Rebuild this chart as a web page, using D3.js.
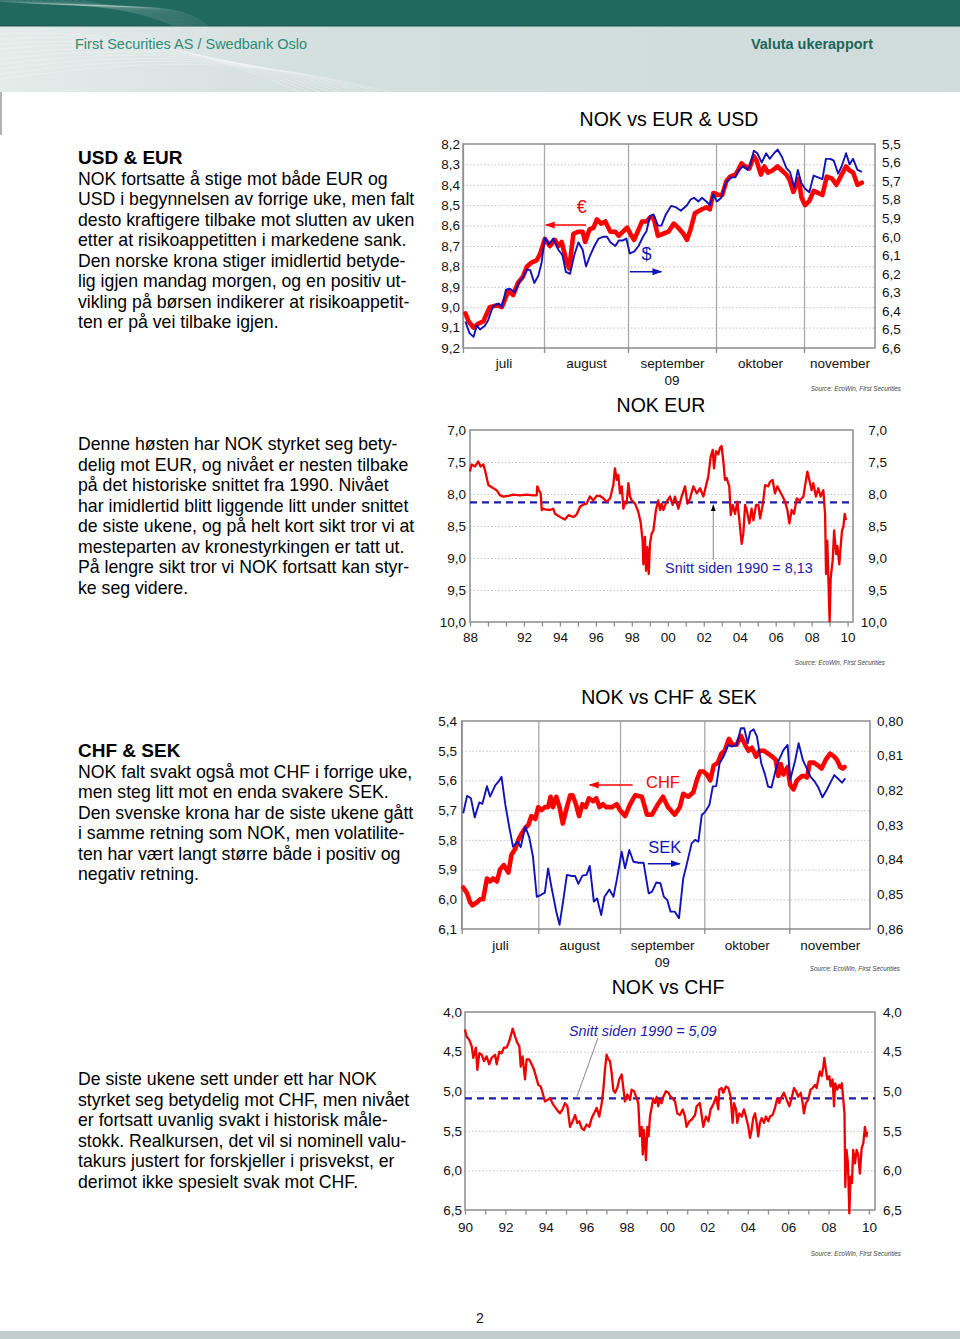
<!DOCTYPE html>
<html lang="no">
<head>
<meta charset="utf-8">
<title>Valuta ukerapport</title>
<script src="https://cdn.jsdelivr.net/npm/d3@7/dist/d3.min.js"></script>
<style>
html,body{margin:0;padding:0;background:#fff;}
svg{display:block;}
</style>
</head>
<body>
<svg id="page" width="960" height="1339" viewBox="0 0 960 1339"></svg>
<script>
// ================= DATA =================
const monthNames = ["juli", "august", "september", "oktober", "november"];
const monthStarts = [7, 8, 9, 10, 11];          // month number in 2009 (x = month + fraction of month)
const yearTag = "09";

// Chart 1 : NOK per EUR (left axis) and NOK per USD (right axis), Jul–Nov 2009
const nokEur2009 = [[7.03,9.03],[7.07,9.07],[7.13,9.10],[7.19,9.08],[7.25,9.07],[7.33,9.00],[7.42,8.99],[7.48,9.00],[7.56,8.92],[7.62,8.94],[7.68,8.88],[7.74,8.85],[7.79,8.80],[7.85,8.78],[7.91,8.77],[7.95,8.74],[8.01,8.665],[8.07,8.70],[8.13,8.67],[8.17,8.70],[8.21,8.68],[8.27,8.78],[8.30,8.81],[8.35,8.64],[8.41,8.63],[8.46,8.63],[8.49,8.68],[8.54,8.62],[8.59,8.61],[8.63,8.57],[8.68,8.59],[8.73,8.58],[8.79,8.63],[8.85,8.63],[8.89,8.65],[8.94,8.63],[8.99,8.61],[9.04,8.65],[9.07,8.67],[9.12,8.62],[9.16,8.58],[9.21,8.58],[9.25,8.56],[9.29,8.56],[9.34,8.65],[9.40,8.64],[9.46,8.63],[9.52,8.59],[9.57,8.61],[9.63,8.64],[9.67,8.67],[9.71,8.62],[9.76,8.54],[9.80,8.53],[9.84,8.52],[9.89,8.51],[9.93,8.52],[9.97,8.44],[10.03,8.45],[10.07,8.45],[10.12,8.38],[10.16,8.36],[10.22,8.35],[10.25,8.33],[10.29,8.295],[10.33,8.31],[10.38,8.32],[10.43,8.26],[10.46,8.28],[10.51,8.35],[10.55,8.31],[10.59,8.34],[10.64,8.33],[10.70,8.31],[10.75,8.33],[10.80,8.35],[10.84,8.38],[10.88,8.435],[10.94,8.37],[10.97,8.46],[11.01,8.50],[11.06,8.48],[11.11,8.43],[11.16,8.44],[11.21,8.45],[11.26,8.36],[11.32,8.37],[11.37,8.40],[11.43,8.35],[11.48,8.31],[11.52,8.33],[11.56,8.34],[11.61,8.40],[11.66,8.39]];
const nokUsd2009 = [[7.03,6.457],[7.08,6.52],[7.13,6.54],[7.17,6.48],[7.21,6.50],[7.27,6.48],[7.31,6.45],[7.37,6.376],[7.44,6.36],[7.48,6.38],[7.53,6.286],[7.58,6.28],[7.64,6.30],[7.70,6.24],[7.74,6.22],[7.79,6.177],[7.83,6.18],[7.88,6.25],[7.93,6.21],[7.97,6.14],[8.01,6.006],[8.06,6.04],[8.11,6.01],[8.17,6.07],[8.22,6.10],[8.26,6.19],[8.31,6.20],[8.36,6.10],[8.41,6.03],[8.46,6.07],[8.50,6.16],[8.55,6.10],[8.60,6.05],[8.65,6.01],[8.71,6.00],[8.75,6.00],[8.79,6.03],[8.85,6.05],[8.89,6.02],[8.94,6.02],[8.98,6.01],[9.02,6.09],[9.07,6.08],[9.12,6.05],[9.17,6.00],[9.21,5.97],[9.25,5.888],[9.29,5.88],[9.34,5.94],[9.38,5.94],[9.43,5.88],[9.49,5.834],[9.54,5.84],[9.60,5.86],[9.67,5.83],[9.71,5.80],[9.75,5.79],[9.80,5.81],[9.84,5.79],[9.89,5.81],[9.93,5.83],[9.97,5.77],[10.01,5.81],[10.06,5.79],[10.11,5.71],[10.17,5.68],[10.22,5.68],[10.26,5.64],[10.31,5.62],[10.36,5.64],[10.39,5.61],[10.43,5.536],[10.47,5.55],[10.52,5.60],[10.57,5.55],[10.61,5.58],[10.66,5.55],[10.70,5.53],[10.75,5.57],[10.80,5.63],[10.84,5.65],[10.89,5.735],[10.93,5.64],[10.97,5.71],[11.01,5.74],[11.06,5.76],[11.11,5.67],[11.16,5.68],[11.21,5.69],[11.25,5.58],[11.30,5.58],[11.34,5.59],[11.39,5.66],[11.43,5.62],[11.48,5.55],[11.52,5.61],[11.56,5.58],[11.61,5.64],[11.66,5.65]];
const c1LeftTicks  = [8.2,8.3,8.4,8.5,8.6,8.7,8.8,8.9,9.0,9.1,9.2];
const c1RightTicks = [5.5,5.6,5.7,5.8,5.9,6.0,6.1,6.2,6.3,6.4,6.5,6.6];

// Chart 2 : NOK per EUR since 1989 (x = year)
const nokEurHist = [[1989.0,7.65],[1989.09,7.54],[1989.28,7.57],[1989.46,7.49],[1989.59,7.57],[1989.74,7.54],[1989.83,7.62],[1990.02,7.86],[1990.30,7.91],[1990.48,7.94],[1990.67,8.02],[1990.85,8.04],[1991.13,8.03],[1991.41,8.01],[1991.78,8.02],[1992.15,8.01],[1992.52,8.02],[1992.71,8.02],[1992.74,7.88],[1992.86,7.96],[1992.93,7.99],[1992.99,8.25],[1993.08,8.23],[1993.17,8.24],[1993.45,8.25],[1993.63,8.23],[1993.73,8.31],[1994.01,8.36],[1994.28,8.40],[1994.47,8.33],[1994.75,8.36],[1994.93,8.32],[1995.12,8.20],[1995.27,8.17],[1995.49,8.15],[1995.67,8.04],[1995.86,8.10],[1996.04,8.03],[1996.23,8.03],[1996.42,8.07],[1996.60,8.12],[1996.79,8.07],[1996.97,7.86],[1997.06,7.60],[1997.16,7.78],[1997.25,7.70],[1997.34,7.99],[1997.44,7.88],[1997.53,8.23],[1997.62,8.12],[1997.71,8.15],[1997.81,7.83],[1997.90,8.04],[1997.99,8.10],[1998.18,8.15],[1998.36,8.28],[1998.49,8.44],[1998.60,8.73],[1998.64,9.10],[1998.73,8.67],[1998.79,9.20],[1998.86,8.83],[1998.94,9.25],[1999.01,8.78],[1999.10,8.62],[1999.20,8.57],[1999.34,8.25],[1999.47,8.10],[1999.57,8.25],[1999.66,8.15],[1999.75,8.25],[1999.94,8.12],[2000.12,8.04],[2000.27,8.17],[2000.40,8.04],[2000.59,8.23],[2000.77,8.04],[2000.96,7.88],[2001.09,8.15],[2001.24,8.07],[2001.42,7.88],[2001.61,7.99],[2001.79,7.91],[2001.98,8.04],[2002.16,7.83],[2002.25,7.73],[2002.39,7.41],[2002.50,7.31],[2002.57,7.60],[2002.68,7.33],[2002.81,7.38],[2002.90,7.28],[2002.99,7.25],[2003.09,7.49],[2003.18,7.78],[2003.27,7.75],[2003.42,7.88],[2003.50,8.33],[2003.61,8.17],[2003.74,8.31],[2003.87,8.12],[2003.98,8.41],[2004.11,8.78],[2004.20,8.62],[2004.30,8.17],[2004.39,8.25],[2004.54,8.46],[2004.66,8.23],[2004.76,8.41],[2004.91,8.17],[2005.04,8.17],[2005.13,8.38],[2005.28,8.17],[2005.41,7.86],[2005.59,7.88],[2005.68,7.81],[2005.83,7.78],[2005.96,7.99],[2006.09,7.88],[2006.24,7.96],[2006.39,8.04],[2006.52,8.12],[2006.65,8.25],[2006.76,8.46],[2006.89,8.25],[2007.02,8.31],[2007.17,8.07],[2007.35,8.10],[2007.54,8.04],[2007.63,7.88],[2007.76,7.65],[2007.87,7.78],[2008.00,7.94],[2008.09,7.83],[2008.24,8.04],[2008.37,7.91],[2008.50,8.04],[2008.65,7.94],[2008.75,8.33],[2008.80,9.25],[2008.87,8.73],[2008.95,9.52],[2009.00,9.99],[2009.06,9.31],[2009.17,9.04],[2009.25,8.57],[2009.36,8.94],[2009.43,8.81],[2009.54,9.10],[2009.61,8.83],[2009.69,8.57],[2009.76,8.52],[2009.84,8.31],[2009.91,8.41]];
const nokEurMean = 8.13;
const c2Ticks = [7.0,7.5,8.0,8.5,9.0,9.5,10.0];
const c2YearTicks = [1989,1990,1991,1992,1993,1994,1995,1996,1997,1998,1999,2000,2001,2002,2003,2004,2005,2006,2007,2008,2009,2010];
const c2YearLabels = {1989:"88",1992:"92",1994:"94",1996:"96",1998:"98",2000:"00",2002:"02",2004:"04",2006:"06",2008:"08",2010:"10"};

// Chart 3 : NOK per CHF (left axis) and NOK per SEK (right axis), Jul–Nov 2009
const nokChf2009 = [[7.02,5.96],[7.07,5.98],[7.11,6.01],[7.14,6.02],[7.20,6.01],[7.24,6.00],[7.28,6.00],[7.33,5.93],[7.37,5.94],[7.41,5.93],[7.46,5.94],[7.50,5.90],[7.55,5.885],[7.61,5.91],[7.65,5.85],[7.70,5.83],[7.74,5.80],[7.78,5.78],[7.83,5.76],[7.87,5.75],[7.91,5.72],[7.96,5.73],[8.00,5.69],[8.04,5.70],[8.08,5.69],[8.12,5.69],[8.15,5.655],[8.18,5.69],[8.22,5.655],[8.26,5.69],[8.30,5.745],[8.35,5.69],[8.39,5.65],[8.42,5.65],[8.46,5.68],[8.50,5.72],[8.54,5.68],[8.58,5.69],[8.62,5.66],[8.67,5.67],[8.71,5.66],[8.75,5.69],[8.79,5.68],[8.83,5.69],[8.90,5.69],[8.96,5.68],[9.00,5.70],[9.06,5.72],[9.12,5.68],[9.18,5.65],[9.26,5.655],[9.32,5.715],[9.38,5.715],[9.45,5.68],[9.51,5.655],[9.57,5.69],[9.65,5.715],[9.71,5.69],[9.75,5.645],[9.81,5.655],[9.87,5.64],[9.91,5.60],[9.95,5.57],[9.99,5.57],[10.03,5.58],[10.07,5.60],[10.11,5.55],[10.16,5.54],[10.20,5.51],[10.24,5.50],[10.29,5.46],[10.33,5.48],[10.38,5.48],[10.43,5.45],[10.48,5.48],[10.52,5.50],[10.56,5.49],[10.61,5.52],[10.65,5.50],[10.70,5.50],[10.75,5.51],[10.80,5.52],[10.84,5.53],[10.87,5.585],[10.90,5.545],[10.93,5.58],[10.98,5.555],[11.01,5.615],[11.05,5.63],[11.09,5.60],[11.15,5.585],[11.18,5.585],[11.21,5.59],[11.24,5.54],[11.29,5.54],[11.34,5.55],[11.38,5.56],[11.43,5.53],[11.48,5.51],[11.53,5.52],[11.56,5.53],[11.60,5.555],[11.63,5.56],[11.65,5.555]];
const nokSek2009 = [[7.02,0.8266],[7.07,0.8216],[7.12,0.8223],[7.17,0.8278],[7.23,0.8235],[7.27,0.8239],[7.33,0.8188],[7.37,0.8218],[7.44,0.8185],[7.48,0.8175],[7.52,0.8161],[7.57,0.8242],[7.62,0.8305],[7.67,0.8363],[7.73,0.8348],[7.77,0.8364],[7.83,0.8305],[7.88,0.8334],[7.93,0.8391],[7.98,0.8507],[8.03,0.8502],[8.08,0.8495],[8.12,0.8425],[8.16,0.8478],[8.22,0.8550],[8.26,0.8588],[8.30,0.8526],[8.35,0.8444],[8.41,0.8447],[8.45,0.8447],[8.49,0.8470],[8.54,0.8446],[8.59,0.8444],[8.63,0.8418],[8.68,0.8521],[8.72,0.8512],[8.77,0.8560],[8.81,0.8507],[8.87,0.8486],[8.92,0.8507],[8.96,0.8459],[9.02,0.8377],[9.06,0.8425],[9.11,0.8372],[9.16,0.8406],[9.22,0.8409],[9.28,0.8409],[9.34,0.8497],[9.38,0.8492],[9.43,0.8466],[9.48,0.8468],[9.52,0.8507],[9.56,0.8516],[9.60,0.8550],[9.65,0.8550],[9.70,0.8569],[9.75,0.8454],[9.79,0.8415],[9.85,0.8353],[9.89,0.8343],[9.93,0.8348],[9.97,0.8271],[10.01,0.8262],[10.06,0.8242],[10.10,0.8189],[10.14,0.8188],[10.18,0.8122],[10.23,0.8101],[10.28,0.8069],[10.32,0.8074],[10.38,0.8069],[10.43,0.8021],[10.47,0.8021],[10.51,0.8064],[10.54,0.8031],[10.58,0.8024],[10.62,0.8045],[10.67,0.8122],[10.71,0.8151],[10.75,0.8189],[10.79,0.8192],[10.84,0.8141],[10.87,0.8117],[10.93,0.8084],[10.98,0.8069],[11.01,0.8170],[11.07,0.8113],[11.11,0.8064],[11.16,0.8113],[11.20,0.8134],[11.25,0.8161],[11.30,0.8175],[11.34,0.8191],[11.39,0.8220],[11.44,0.8199],[11.49,0.8175],[11.53,0.8156],[11.58,0.8168],[11.62,0.8178],[11.66,0.8165]];
const c3LeftTicks  = [5.4,5.5,5.6,5.7,5.8,5.9,6.0,6.1];
const c3RightTicks = [0.80,0.81,0.82,0.83,0.84,0.85,0.86];

// Chart 4 : NOK per CHF since 1990 (x = year)
const nokChfHist = [[1990.0,4.22],[1990.08,4.31],[1990.21,4.35],[1990.33,4.43],[1990.41,4.58],[1990.54,4.45],[1990.61,4.73],[1990.71,4.52],[1990.83,4.54],[1990.94,4.62],[1991.07,4.56],[1991.20,4.66],[1991.32,4.58],[1991.49,4.54],[1991.57,4.66],[1991.70,4.50],[1991.82,4.52],[1991.93,4.45],[1992.06,4.45],[1992.19,4.37],[1992.31,4.26],[1992.36,4.21],[1992.48,4.31],[1992.59,4.39],[1992.69,4.43],[1992.76,4.69],[1992.85,4.56],[1992.97,4.85],[1993.05,4.60],[1993.18,4.60],[1993.30,4.66],[1993.42,4.73],[1993.51,4.81],[1993.63,4.92],[1993.75,4.94],[1993.84,5.02],[1993.96,5.13],[1994.08,5.11],[1994.21,5.09],[1994.37,5.17],[1994.54,5.23],[1994.70,5.28],[1994.83,5.23],[1994.95,5.15],[1995.07,5.19],[1995.20,5.45],[1995.33,5.38],[1995.45,5.30],[1995.56,5.40],[1995.66,5.38],[1995.78,5.47],[1995.89,5.49],[1996.02,5.42],[1996.16,5.45],[1996.27,5.34],[1996.39,5.28],[1996.52,5.21],[1996.65,5.32],[1996.77,5.15],[1996.85,4.98],[1996.93,4.73],[1997.01,4.54],[1997.10,4.60],[1997.18,4.62],[1997.26,4.77],[1997.34,4.98],[1997.43,5.02],[1997.54,4.96],[1997.64,4.85],[1997.76,4.79],[1997.84,4.96],[1997.92,5.13],[1998.04,5.04],[1998.17,5.11],[1998.25,4.98],[1998.37,5.00],[1998.47,5.07],[1998.58,5.15],[1998.66,5.57],[1998.75,5.45],[1998.80,5.80],[1998.86,5.49],[1998.91,5.66],[1998.96,5.87],[1999.03,5.45],[1999.09,5.57],[1999.16,5.32],[1999.24,5.21],[1999.32,5.09],[1999.41,5.15],[1999.49,5.07],[1999.57,5.19],[1999.65,5.11],[1999.74,5.15],[1999.82,5.07],[1999.95,5.00],[2000.07,5.02],[2000.18,5.07],[2000.28,5.09],[2000.40,5.13],[2000.51,5.28],[2000.64,5.30],[2000.78,5.23],[2000.89,5.32],[2000.97,5.45],[2001.11,5.38],[2001.22,5.36],[2001.39,5.30],[2001.47,5.19],[2001.63,5.15],[2001.80,5.45],[2001.93,5.32],[2002.05,5.38],[2002.16,5.23],[2002.29,5.17],[2002.43,5.07],[2002.54,5.23],[2002.59,4.98],[2002.71,4.96],[2002.79,5.02],[2002.92,4.94],[2003.04,4.96],[2003.15,5.07],[2003.25,5.40],[2003.32,5.15],[2003.42,5.23],[2003.48,5.40],[2003.58,5.28],[2003.70,5.32],[2003.81,5.23],[2003.91,5.32],[2004.03,5.45],[2004.11,5.59],[2004.19,5.49],[2004.27,5.34],[2004.36,5.28],[2004.44,5.40],[2004.52,5.57],[2004.60,5.40],[2004.69,5.34],[2004.80,5.40],[2004.90,5.32],[2005.02,5.38],[2005.10,5.32],[2005.23,5.30],[2005.35,5.21],[2005.46,5.09],[2005.56,5.15],[2005.68,5.07],[2005.79,5.02],[2005.93,5.11],[2006.06,5.19],[2006.17,5.09],[2006.29,4.96],[2006.39,5.00],[2006.50,5.07],[2006.62,5.02],[2006.72,5.15],[2006.78,5.28],[2006.88,5.15],[2006.99,5.11],[2007.11,4.98],[2007.21,4.96],[2007.33,4.92],[2007.41,4.96],[2007.49,4.85],[2007.57,4.75],[2007.66,4.81],[2007.74,4.69],[2007.79,4.58],[2007.87,4.73],[2007.94,4.85],[2008.04,4.81],[2008.10,4.94],[2008.20,4.85],[2008.27,5.19],[2008.33,4.90],[2008.43,4.98],[2008.53,4.92],[2008.60,4.96],[2008.66,4.90],[2008.73,5.11],[2008.79,5.28],[2008.83,6.21],[2008.89,5.74],[2008.96,5.91],[2009.03,6.54],[2009.09,6.08],[2009.16,6.16],[2009.22,5.74],[2009.31,5.91],[2009.39,5.74],[2009.47,5.80],[2009.55,6.04],[2009.64,5.72],[2009.72,5.66],[2009.80,5.45],[2009.88,5.57],[2009.91,5.51]];
const nokChfMean = 5.09;
const c4Ticks = [4.0,4.5,5.0,5.5,6.0,6.5];
const c4YearTicks = [1990,1991,1992,1993,1994,1995,1996,1997,1998,1999,2000,2001,2002,2003,2004,2005,2006,2007,2008,2009,2010];
const c4YearLabels = {1990:"90",1992:"92",1994:"94",1996:"96",1998:"98",2000:"00",2002:"02",2004:"04",2006:"06",2008:"08",2010:"10"};

// Body text
const textUsdEur = ["USD & EUR",
  "NOK fortsatte å stige mot både EUR og",
  "USD i begynnelsen av forrige uke, men falt",
  "desto kraftigere tilbake mot slutten av uken",
  "etter at risikoappetitten i markedene sank.",
  "Den norske krona stiger imidlertid betyde-",
  "lig igjen mandag morgen, og en positiv ut-",
  "vikling på børsen indikerer at risikoappetit-",
  "ten er på vei tilbake igjen."];
const textEurHist = ["Denne høsten har NOK styrket seg bety-",
  "delig mot EUR, og nivået er nesten tilbake",
  "på det historiske snittet fra 1990. Nivået",
  "har imidlertid blitt liggende litt under snittet",
  "de siste ukene, og på helt kort sikt tror vi at",
  "mesteparten av kronestyrkingen er tatt ut.",
  "På lengre sikt tror vi NOK fortsatt kan styr-",
  "ke seg videre."];
const textChfSek = ["CHF & SEK",
  "NOK falt svakt også mot CHF i forrige uke,",
  "men steg litt mot en enda svakere SEK.",
  "Den svenske krona har de siste ukene gått",
  "i samme retning som NOK, men volatilite-",
  "ten har vært langt større både i positiv og",
  "negativ retning."];
const textChfHist = ["De siste ukene sett under ett har NOK",
  "styrket seg betydelig mot CHF, men nivået",
  "er fortsatt uvanlig svakt i historisk måle-",
  "stokk. Realkursen, det vil si nominell valu-",
  "takurs justert for forskjeller i prisvekst, er",
  "derimot ikke spesielt svak mot CHF."];
const sourceText = "Source: EcoWin, First Securities";

// ================= DRAWING =================
const FONT = '"Liberation Sans", Arial, Helvetica, sans-serif';
const RED = "#ff0000", RED2 = "#ee0000", BLUE = "#1212b8", DASH = "#1c1ca8";
const GRID = "#c4c4c4", FRAME = "#8c8c8c", MLINE = "#a8a8a8";
const svg = d3.select("#page").attr("font-family", FONT);
const loc = d3.formatLocale({decimal: ",", thousands: " ", grouping: [3], currency: ["", ""]});
const f1 = loc.format(".1f"), f2 = loc.format(".2f");

const defs = svg.append("defs");
function marker(id, color, size) {
  defs.append("marker").attr("id", id).attr("viewBox", "0 0 10 10")
    .attr("refX", 9).attr("refY", 5).attr("markerUnits", "userSpaceOnUse")
    .attr("markerWidth", size).attr("markerHeight", size).attr("orient", "auto")
    .append("path").attr("d", "M0,1.5 L10,5 L0,8.5 Z").attr("fill", color);
}
marker("arrR", RED, 10); marker("arrB", BLUE, 10); marker("arrK", "#000", 7);

// ---- page header ----
const hdr = svg.append("g");
const hgrad = defs.append("linearGradient").attr("id", "hg").attr("x1", 0).attr("x2", 1).attr("y1", 0).attr("y2", 0);
hgrad.append("stop").attr("offset", 0).attr("stop-color", "#e4ecea");
hgrad.append("stop").attr("offset", 0.35).attr("stop-color", "#d3dfdd");
hgrad.append("stop").attr("offset", 1).attr("stop-color", "#d0dcdb");
hdr.append("rect").attr("x", 0).attr("y", 26).attr("width", 960).attr("height", 66).attr("fill", "url(#hg)");
hdr.append("rect").attr("x", 0).attr("y", 0).attr("width", 960).attr("height", 26).attr("fill", "#21685e");
hdr.append("line").attr("x1", 0).attr("x2", 960).attr("y1", 26).attr("y2", 26).attr("stroke", "#1b554d").attr("stroke-width", 1);
hdr.selectAll("path.sw").data(d3.range(14)).join("path")
  .attr("d", i => `M${-10 + i * 7},0 C${50 + i * 6},${8 + i * 0.4} ${110 + i * 5},${-2} ${175 + i * 2.5},26`)
  .attr("fill", "none").attr("stroke", "rgba(255,255,255,0.16)").attr("stroke-width", 0.8);
hdr.selectAll("path.sw2").data(d3.range(10)).join("path")
  .attr("d", i => `M0,${34 + i * 5} C${90 + i * 8},${30 + i * 3} ${180 + i * 8},${40 + i * 2} ${300 + i * 10},92`)
  .attr("fill", "none").attr("stroke", "rgba(255,255,255,0.35)").attr("stroke-width", 0.8);
hdr.append("text").attr("x", 75).attr("y", 49).attr("font-size", 15).attr("fill", "#2f8a76")
  .attr("textLength", 232).attr("lengthAdjust", "spacingAndGlyphs").text("First Securities AS / Swedbank Oslo");
hdr.append("text").attr("x", 751).attr("y", 49).attr("font-size", 15).attr("font-weight", "bold").attr("fill", "#1d6557")
  .attr("textLength", 122).attr("lengthAdjust", "spacingAndGlyphs").text("Valuta ukerapport");
hdr.append("line").attr("x1", 1).attr("x2", 1).attr("y1", 92).attr("y2", 135).attr("stroke", "#666").attr("stroke-width", 1);

// ---- footer ----
svg.append("text").attr("x", 480).attr("y", 1323).attr("text-anchor", "middle").attr("font-size", 14).attr("fill", "#111").text("2");
svg.append("rect").attr("x", 0).attr("y", 1331).attr("width", 960).attr("height", 8).attr("fill", "#c1cecb");

// ---- body text ----
function paragraph(lines, y, boldFirst) {
  svg.append("g").attr("font-size", 17.7).attr("fill", "#000")
    .selectAll("text").data(lines).join("text")
    .attr("x", 78).attr("y", (d, i) => y + i * 20.5)
    .attr("font-weight", (d, i) => (boldFirst && i === 0) ? "bold" : null)
    .attr("font-size", (d, i) => (boldFirst && i === 0) ? 19 : null)
    .text(d => d);
}
paragraph(textUsdEur, 164, true);
paragraph(textEurHist, 450, false);
paragraph(textChfSek, 757, true);
paragraph(textChfHist, 1085, false);

// ---- helpers ----
function gridLines(g, y, ticks, x0, x1) {
  g.append("g").attr("transform", `translate(${x0},0)`)
    .call(d3.axisLeft(y).tickValues(ticks).tickSize(-(x1 - x0)).tickFormat(""))
    .call(s => s.select(".domain").remove())
    .call(s => s.selectAll(".tick line").attr("stroke", GRID).attr("stroke-width", 1).attr("stroke-dasharray", "1.5,2"));
}
function yLabels(g, y, ticks, xpos, anchor, fmt) {
  const ax = anchor === "end" ? d3.axisLeft(y) : d3.axisRight(y);
  g.append("g").attr("transform", `translate(${xpos},0)`)
    .call(ax.tickValues(ticks).tickSize(0).tickPadding(0).tickFormat(fmt))
    .call(s => s.select(".domain").remove())
    .call(s => s.selectAll("text").attr("font-family", FONT).attr("font-size", 13.5).attr("fill", "#111"));
}
function frame(g, x0, x1, y0, y1) {
  g.append("rect").attr("x", x0).attr("y", y0).attr("width", x1 - x0).attr("height", y1 - y0)
    .attr("fill", "none").attr("stroke", FRAME).attr("stroke-width", 1.5);
}
function title(g, x, y, t) {
  g.append("text").attr("x", x).attr("y", y).attr("text-anchor", "middle").attr("font-size", 19.5).attr("fill", "#000").text(t);
}
function source(g, x, y) {
  g.append("text").attr("x", x).attr("y", y).attr("text-anchor", "end").attr("font-size", 6.3)
    .attr("font-style", "italic").attr("fill", "#444").text(sourceText);
}

// ---- month chart (charts 1 & 3) ----
function monthChart(o) {
  const g = svg.append("g");
  const x = d3.scaleLinear().domain(o.xDomain).range(o.xRange);
  const yL = d3.scaleLinear().domain([o.leftTicks[0], o.leftTicks[o.leftTicks.length - 1]]).range([o.y0, o.y1]);
  const yR = d3.scaleLinear().domain([o.rightTicks[0], o.rightTicks[o.rightTicks.length - 1]]).range([o.y0, o.y1]);
  const x0 = x.range()[0], x1 = x.range()[x.range().length - 1];
  const xEnd = o.xDomain[o.xDomain.length - 1];
  gridLines(g, yL, o.leftTicks.slice(1, -1), x0, x1);
  g.append("g").attr("transform", `translate(0,${o.y1})`)
    .call(d3.axisBottom(x).tickValues(monthStarts).tickSize(-(o.y1 - o.y0)).tickFormat(""))
    .call(s => s.select(".domain").remove())
    .call(s => s.selectAll(".tick line").attr("stroke", MLINE).attr("stroke-width", 1.3));
  g.append("g").attr("transform", `translate(0,${o.y1})`)
    .call(d3.axisBottom(x).tickValues(monthStarts).tickSize(5).tickFormat(""))
    .call(s => s.select(".domain").remove())
    .call(s => s.selectAll(".tick line").attr("stroke", FRAME).attr("stroke-width", 1.3));
  frame(g, x0, x1, o.y0, o.y1);
  const mids = monthStarts.map((m, i) => i < monthStarts.length - 1 ? m + 0.5 : (m + xEnd) / 2);
  g.append("g").attr("transform", `translate(0,${o.y1})`)
    .call(d3.axisBottom(x).tickValues(mids).tickSize(0).tickPadding(o.labelPad).tickFormat((d, i) => monthNames[i]))
    .call(s => s.select(".domain").remove())
    .call(s => s.selectAll("text").attr("font-family", FONT).attr("font-size", 13.5).attr("fill", "#111"));
  g.append("text").attr("x", x(mids[2])).attr("y", o.y1 + o.labelPad + 26.5).attr("text-anchor", "middle")
    .attr("font-size", 13.5).attr("fill", "#111").text(yearTag);
  yLabels(g, yL, o.leftTicks, o.leftLabelX, "end", o.leftFmt);
  yLabels(g, yR, o.rightTicks, o.rightLabelX, "start", o.rightFmt);
  const lineL = d3.line().x(d => x(d[0])).y(d => yL(d[1]));
  const lineR = d3.line().x(d => x(d[0])).y(d => yR(d[1]));
  g.append("path").datum(o.leftSeries).attr("d", lineL).attr("fill", "none").attr("stroke", RED)
    .attr("stroke-width", 4.6).attr("stroke-linejoin", "round").attr("stroke-linecap", "round");
  g.append("path").datum(o.rightSeries).attr("d", lineR).attr("fill", "none").attr("stroke", BLUE)
    .attr("stroke-width", 1.9).attr("stroke-linejoin", "round");
  const aL = o.annLeft, aR = o.annRight;
  g.append("text").attr("x", x(aL.tx)).attr("y", yL(aL.ty)).attr("text-anchor", "middle")
    .attr("font-size", aL.size).attr("fill", RED).text(aL.text);
  g.append("line").attr("x1", x(aL.from)).attr("x2", x(aL.to)).attr("y1", yL(aL.ay)).attr("y2", yL(aL.ay))
    .attr("stroke", RED).attr("stroke-width", 1.5).attr("marker-end", "url(#arrR)");
  g.append("text").attr("x", x(aR.tx)).attr("y", yL(aR.ty)).attr("text-anchor", "middle")
    .attr("font-size", aR.size).attr("fill", BLUE).text(aR.text);
  g.append("line").attr("x1", x(aR.from)).attr("x2", x(aR.to)).attr("y1", yL(aR.ay)).attr("y2", yL(aR.ay))
    .attr("stroke", BLUE).attr("stroke-width", 1.5).attr("marker-end", "url(#arrB)");
  title(g, o.titleX, o.titleY, o.title);
  source(g, o.srcX, o.srcY);
}

monthChart({
  title: "NOK vs EUR & USD", titleX: 669, titleY: 126,
  xDomain: [7, 8, 9, 10, 11, 11.81], xRange: [463, 544, 628, 716, 804, 875],
  y0: 144, y1: 348, labelPad: 10.5,
  leftTicks: c1LeftTicks, rightTicks: c1RightTicks, leftFmt: f1, rightFmt: f1,
  leftLabelX: 460, rightLabelX: 882,
  leftSeries: nokEur2009, rightSeries: nokUsd2009,
  annLeft: {text: "€", tx: 8.45, ty: 8.54, size: 18, from: 8.50, to: 8.02, ay: 8.597},
  annRight: {text: "$", tx: 9.21, ty: 8.77, size: 18, from: 9.02, to: 9.38, ay: 8.826},
  srcX: 901, srcY: 391
});

monthChart({
  title: "NOK vs CHF & SEK", titleX: 669, titleY: 704,
  xDomain: [7, 8, 9, 10, 11, 11.95], xRange: [461.7, 538.3, 620, 704.3, 789.3, 870],
  y0: 721, y1: 929, labelPad: 11.4,
  leftTicks: c3LeftTicks, rightTicks: c3RightTicks, leftFmt: f1, rightFmt: f2,
  leftLabelX: 457, rightLabelX: 877,
  leftSeries: nokChf2009, rightSeries: nokSek2009,
  annLeft: {text: "CHF", tx: 9.51, ty: 5.626, size: 16.5, from: 9.15, to: 8.63, ay: 5.615},
  annRight: {text: "SEK", tx: 9.53, ty: 5.844, size: 16.5, from: 9.33, to: 9.71, ay: 5.88},
  srcX: 900, srcY: 971
});

// ---- history chart (charts 2 & 4) ----
function histChart(o) {
  const g = svg.append("g");
  const x = d3.scaleLinear().domain(o.xDomain).range([o.x0, o.x1]);
  const y = d3.scaleLinear().domain([o.ticks[0], o.ticks[o.ticks.length - 1]]).range([o.y0, o.y1]);
  gridLines(g, y, o.ticks.slice(1, -1), o.x0, o.x1);
  frame(g, o.x0, o.x1, o.y0, o.y1);
  g.append("g").attr("transform", `translate(0,${o.y1})`)
    .call(d3.axisBottom(x).tickValues(o.yearTicks).tickSize(4.5).tickPadding(o.labelPad)
      .tickFormat(d => o.yearLabels[d] || ""))
    .call(s => s.select(".domain").remove())
    .call(s => s.selectAll(".tick line").attr("stroke", FRAME).attr("stroke-width", 1.3))
    .call(s => s.selectAll("text").attr("font-family", FONT).attr("font-size", 13.5).attr("fill", "#111"));
  yLabels(g, y, o.ticks, o.leftLabelX, "end", f1);
  yLabels(g, y, o.ticks, o.rightLabelX, o.rightAnchor, f1);
  g.append("line").attr("x1", o.x0).attr("x2", o.x1).attr("y1", y(o.mean)).attr("y2", y(o.mean))
    .attr("stroke", DASH).attr("stroke-width", 2.2).attr("stroke-dasharray", "7,5");
  g.append("path").datum(o.series)
    .attr("d", d3.line().x(d => x(d[0])).y(d => y(d[1])))
    .attr("fill", "none").attr("stroke", RED2).attr("stroke-width", 2.3).attr("stroke-linejoin", "round");
  const n = o.note;
  g.append("line").attr("x1", x(n.l1[0])).attr("y1", y(n.l1[1])).attr("x2", x(n.l2[0])).attr("y2", y(n.l2[1]))
    .attr("stroke", "#888").attr("stroke-width", 1).attr("marker-end", n.arrow ? "url(#arrK)" : null);
  g.append("text").attr("x", x(n.tx)).attr("y", y(n.ty)).attr("font-size", 14.4)
    .attr("font-style", n.italic ? "italic" : null).attr("fill", DASH)
    .text("Snitt siden 1990 = " + f2(o.mean));
  title(g, o.titleX, o.titleY, o.title);
  source(g, o.srcX, o.srcY);
}

histChart({
  title: "NOK EUR", titleX: 661, titleY: 412,
  xDomain: [1989, 2010.3], x0: 470, x1: 853, y0: 430, y1: 622,
  ticks: c2Ticks, yearTicks: c2YearTicks, yearLabels: c2YearLabels, labelPad: 5.5,
  leftLabelX: 466, rightLabelX: 887, rightAnchor: "end",
  series: nokEurHist, mean: nokEurMean,
  note: {tx: 1999.85, ty: 9.23, italic: false, arrow: true, l1: [2002.53, 9.03], l2: [2002.53, 8.17]},
  srcX: 885, srcY: 665
});

histChart({
  title: "NOK vs CHF", titleX: 668, titleY: 994,
  xDomain: [1990, 2010.3], x0: 465, x1: 875, y0: 1012, y1: 1210,
  ticks: c4Ticks, yearTicks: c4YearTicks, yearLabels: c4YearLabels, labelPad: 7.5,
  leftLabelX: 462, rightLabelX: 883, rightAnchor: "start",
  series: nokChfHist, mean: nokChfMean,
  note: {tx: 1995.15, ty: 4.30, italic: true, arrow: false, l1: [1996.58, 4.33], l2: [1995.54, 5.07]},
  srcX: 901, srcY: 1256
});
</script>
</body>
</html>
